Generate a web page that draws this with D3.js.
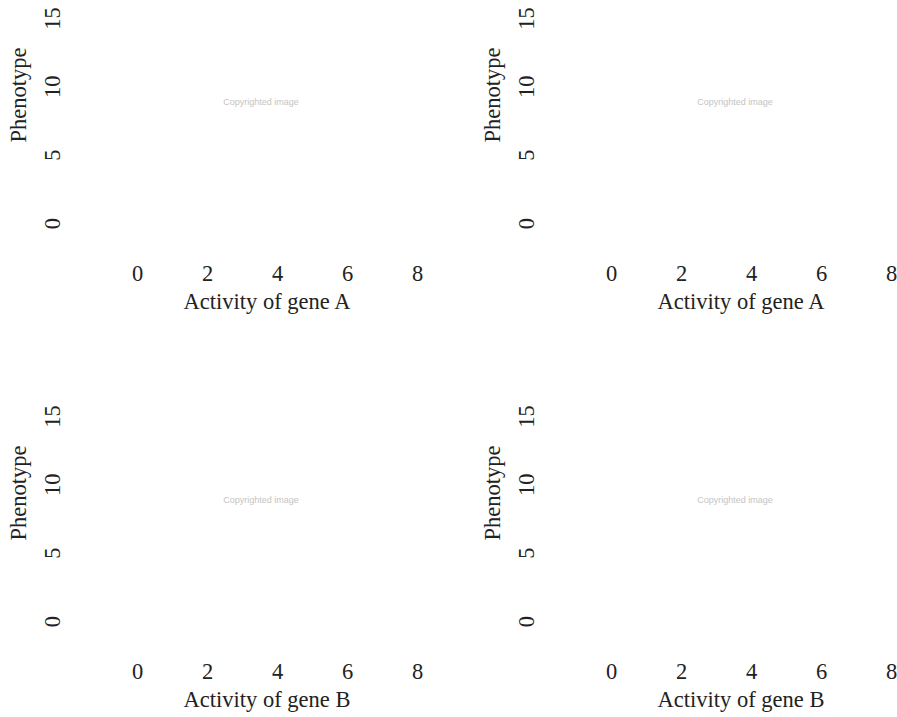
<!DOCTYPE html>
<html>
<head>
<meta charset="utf-8">
<script src="https://cdn.jsdelivr.net/npm/d3@7"></script>
<style>
  html, body { margin: 0; padding: 0; background: #fff; }
  svg { display: block; }
  text { font-family: "Liberation Serif", "DejaVu Serif", serif; fill: #222; }
</style>
</head>
<body>
<svg id="chart" width="897" height="717"></svg>
<script>
// ---- data ----
const panels = ["A-top-left", "A-top-right", "B-bottom-left", "B-bottom-right"];
const xLabels = ["Activity of gene A", "Activity of gene A", "Activity of gene B", "Activity of gene B"];
const yLabel = "Phenotype";
const xTicks = [0, 2, 4, 6, 8];
const yTicks = [0, 5, 10, 15];
const xDomain = [0, 8];
const yDomain = [0, 15];
const placeholder = "Copyrighted image";

// ---- layout ----
const svg = d3.select("#chart");
const offsets = [[0, 0], [474, 0], [0, 398], [474, 398]];
const fontSize = 22.5;

panels.forEach((p, i) => {
  const [ox, oy] = offsets[i];
  const g = svg.append("g").attr("transform", `translate(${ox},${oy})`);

  const x = d3.scaleLinear().domain(xDomain).range([137, 417]);
  const y = d3.scaleLinear().domain(yDomain).range([223, 18]);

  // x axis tick labels
  const xa = g.append("g")
    .attr("transform", "translate(0,265.5)")
    .call(d3.axisBottom(x).tickValues(xTicks).tickSize(0).tickPadding(0).tickFormat(d3.format("d")));
  xa.select(".domain").remove();
  xa.selectAll("text")
    .style("font-family", "'Liberation Serif', serif")
    .style("font-size", fontSize + "px")
    .attr("fill", "#222");

  // y axis tick labels (rotated, R style)
  const ya = g.append("g")
    .call(d3.axisLeft(y).tickValues(yTicks).tickSize(0).tickPadding(0).tickFormat(d3.format("d")));
  ya.select(".domain").remove();
  ya.selectAll("text")
    .attr("x", 0).attr("dy", 0)
    .attr("text-anchor", "middle")
    .attr("transform", "translate(59.5,0) rotate(-90)")
    .style("font-family", "'Liberation Serif', serif")
    .style("font-size", fontSize + "px")
    .attr("fill", "#222");

  // axis titles
  g.append("text")
    .attr("x", 267).attr("y", 309)
    .attr("text-anchor", "middle")
    .style("font-size", fontSize + "px")
    .text(xLabels[i]);

  g.append("text")
    .attr("transform", "translate(26,95) rotate(-90)")
    .attr("text-anchor", "middle")
    .style("font-size", fontSize + "px")
    .text(yLabel);

  // placeholder text
  g.append("text")
    .attr("x", 261).attr("y", 105)
    .attr("text-anchor", "middle")
    .style("font-family", "'Liberation Sans', Arial, sans-serif")
    .style("font-size", "9px")
    .style("fill", "#c4c4c4")
    .text(placeholder);
});
</script>
</body>
</html>
